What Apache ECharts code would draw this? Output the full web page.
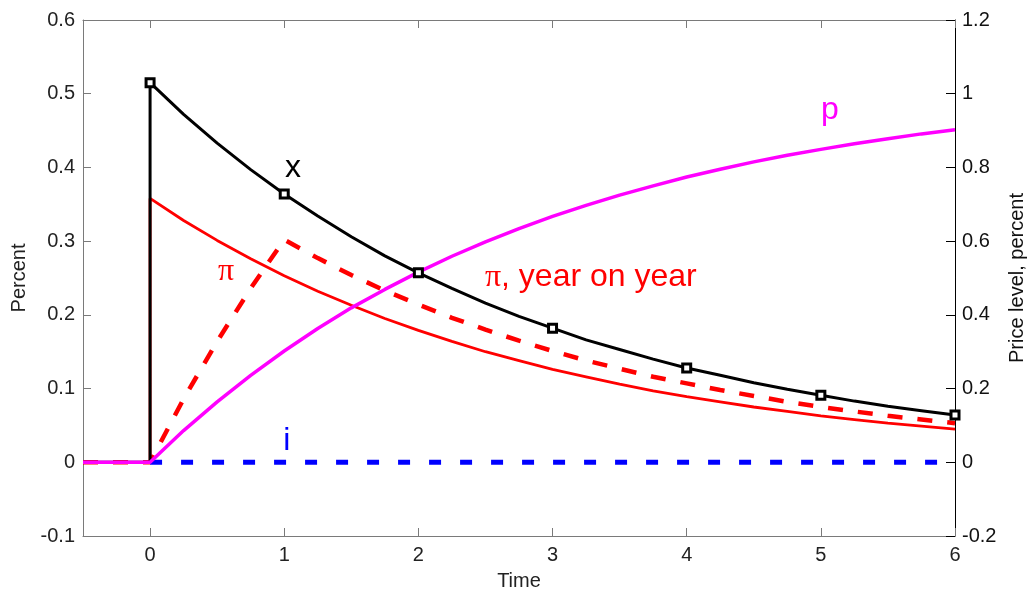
<!DOCTYPE html>
<html>
<head>
<meta charset="utf-8">
<script src="https://cdn.jsdelivr.net/npm/echarts@6/dist/echarts.min.js"></script>
<style>
html,body{margin:0;padding:0;background:#fff;}
#chart{width:1031px;height:592px;}
</style>
</head>
<body>
<div id="chart"></div>
<script>
// ---- data ----
const preTime = [-0.5, 0];
const preValues = [0, 0];
const time = [0, 0.25, 0.5, 0.75, 1, 1.25, 1.5, 1.75, 2, 2.25, 2.5, 2.75, 3, 3.25, 3.5, 3.75, 4, 4.25, 4.5, 4.75, 5, 5.25, 5.5, 5.75, 6];
const outputGap = [0.515, 0.472, 0.433, 0.397, 0.364, 0.334, 0.306, 0.280, 0.257, 0.236, 0.216, 0.198, 0.182, 0.166, 0.153, 0.140, 0.128, 0.118, 0.108, 0.099, 0.091, 0.083, 0.076, 0.070, 0.064];
const inflation = [0.358, 0.328, 0.301, 0.276, 0.253, 0.232, 0.213, 0.195, 0.179, 0.164, 0.150, 0.138, 0.126, 0.116, 0.106, 0.097, 0.089, 0.082, 0.075, 0.069, 0.063, 0.058, 0.053, 0.049, 0.045];
const inflationYoY = [0, 0.086, 0.164, 0.236, 0.302, 0.277, 0.254, 0.233, 0.214, 0.196, 0.180, 0.165, 0.151, 0.138, 0.127, 0.116, 0.107, 0.098, 0.090, 0.082, 0.075, 0.069, 0.063, 0.058, 0.053];
const priceLevel = [0, 0.086, 0.164, 0.236, 0.302, 0.363, 0.419, 0.469, 0.516, 0.559, 0.598, 0.634, 0.667, 0.697, 0.725, 0.750, 0.774, 0.795, 0.815, 0.833, 0.849, 0.864, 0.878, 0.891, 0.902];
const interestRate = [0, 0, 0, 0, 0, 0, 0, 0, 0, 0, 0, 0, 0, 0, 0, 0, 0, 0, 0, 0, 0, 0, 0, 0, 0];
const markerTimes = [0, 1, 2, 3, 4, 5, 6];
const xTicks = [0, 1, 2, 3, 4, 5, 6];
// text annotations: [time, left-axis value]
const annotations = [
  { name: 'x', at: [1.066, 0.399], color: '#000000', align: 'center' },
  { name: 'pi', at: [0.566, 0.259], color: '#ff0000', align: 'center' },
  { name: 'piYoY', at: [2.496, 0.251], color: '#ff0000', align: 'left' },
  { name: 'p', at: [5.067, 0.477], color: '#ff00ff', align: 'center' },
  { name: 'i', at: [1.02, 0.029], color: '#0000ff', align: 'center' }
];

function withPre(vals) {
  return preTime.map((t, i) => [t, preValues[i]]).concat(time.map((t, i) => [t, vals[i]]));
}
const markerData = markerTimes.map(t => [t, outputGap[time.indexOf(t)]]);

const FONT = 'Liberation Sans, Arial, Helvetica, sans-serif';
const chart = echarts.init(document.getElementById('chart'), null, { renderer: 'canvas' });

const option = {
  backgroundColor: '#ffffff',
  animation: false,
  grid: { left: 83, right: 76, top: 20, bottom: 56, containLabel: false, outerBoundsMode: 'none' },
  xAxis: [
    {
      type: 'value', position: 'bottom', min: -0.5, max: 6,
      name: 'Time', nameLocation: 'middle', nameGap: 35,
      nameTextStyle: { fontFamily: FONT, fontSize: 20, color: '#222' },
      axisLine: { show: true, onZero: false, lineStyle: { color: '#7a7a7a', width: 1 } },
      axisTick: { show: true, inside: true, length: 8, customValues: xTicks, lineStyle: { color: '#7a7a7a' } },
      axisLabel: { show: true, margin: 9, customValues: xTicks, fontFamily: FONT, fontSize: 20, color: '#222' },
      splitLine: { show: false }
    },
    {
      type: 'value', position: 'top', min: -0.5, max: 6,
      axisLine: { show: true, onZero: false, lineStyle: { color: '#7a7a7a', width: 1 } },
      axisTick: { show: true, inside: true, length: 8, customValues: xTicks, lineStyle: { color: '#7a7a7a' } },
      axisLabel: { show: false },
      splitLine: { show: false }
    }
  ],
  yAxis: [
    {
      type: 'value', position: 'left', min: -0.1, max: 0.6, interval: 0.1,
      name: 'Percent', nameLocation: 'middle', nameGap: 53, nameRotate: 90,
      nameTextStyle: { fontFamily: FONT, fontSize: 20, color: '#222' },
      axisLine: { show: true, onZero: false, lineStyle: { color: '#7a7a7a', width: 1 } },
      axisTick: { show: true, inside: true, length: 8, lineStyle: { color: '#7a7a7a' } },
      axisLabel: { margin: 8, fontFamily: FONT, fontSize: 20, color: '#222',
        formatter: v => String(Math.round(v * 10) / 10) },
      splitLine: { show: false }
    },
    {
      type: 'value', position: 'right', min: -0.2, max: 1.2, interval: 0.2,
      name: 'Price level, percent', nameLocation: 'middle', nameGap: 52, nameRotate: 90,
      nameTextStyle: { fontFamily: FONT, fontSize: 20, color: '#111' },
      axisLine: { show: true, onZero: false, lineStyle: { color: '#000', width: 1 } },
      axisTick: { show: true, inside: true, length: 9, lineStyle: { color: '#000' } },
      axisLabel: { margin: 7, fontFamily: FONT, fontSize: 20, color: '#111',
        formatter: v => String(Math.round(v * 10) / 10) },
      splitLine: { show: false }
    }
  ],
  series: [
    {
      name: 'pi', type: 'line', xAxisIndex: 0, yAxisIndex: 0, data: withPre(inflation),
      showSymbol: false, lineStyle: { color: '#ff0000', width: 2.8 }, z: 2
    },
    {
      name: 'pi yoy', type: 'line', xAxisIndex: 0, yAxisIndex: 0, data: withPre(inflationYoY),
      showSymbol: false, lineStyle: { color: '#ff0000', width: 4.5, type: [15, 15] }, z: 3
    },
    {
      name: 'x', type: 'line', xAxisIndex: 0, yAxisIndex: 0, data: withPre(outputGap),
      showSymbol: false, lineStyle: { color: '#000000', width: 3 }, z: 4
    },
    {
      name: 'i', type: 'line', xAxisIndex: 0, yAxisIndex: 0, data: time.map((t, i) => [t, interestRate[i]]),
      showSymbol: false, lineStyle: { color: '#0000ff', width: 5, type: [12, 19] }, z: 5
    },
    {
      name: 'p', type: 'line', xAxisIndex: 0, yAxisIndex: 1, data: withPre(priceLevel),
      showSymbol: false, lineStyle: { color: '#ff00ff', width: 3.5 }, z: 6
    },
    {
      name: 'x markers', type: 'scatter', xAxisIndex: 0, yAxisIndex: 0, data: markerData,
      symbol: 'rect', symbolSize: 8,
      itemStyle: { color: '#ffffff', borderColor: '#000000', borderWidth: 3, opacity: 1 }, z: 7
    }
  ]
};
chart.setOption(option);

function placeLabels() {
  const texts = {
    x: 'x',
    pi: '{s|π}',
    piYoY: '{s|π}, year on year',
    p: 'p',
    i: 'i'
  };
  const elements = annotations.map(a => {
    const px = chart.convertToPixel({ xAxisIndex: 0, yAxisIndex: 0 }, a.at);
    return {
      type: 'text', x: px[0], y: px[1], z: 100,
      style: {
        text: texts[a.name],
        fill: a.color,
        fontFamily: FONT, fontSize: 32,
        align: a.align, verticalAlign: 'middle',
        rich: { s: { fontFamily: 'Liberation Serif, DejaVu Serif, serif', fontSize: 32, fill: a.color } }
      }
    };
  });
  chart.setOption({ graphic: elements });
}
placeLabels();
</script>
</body>
</html>
